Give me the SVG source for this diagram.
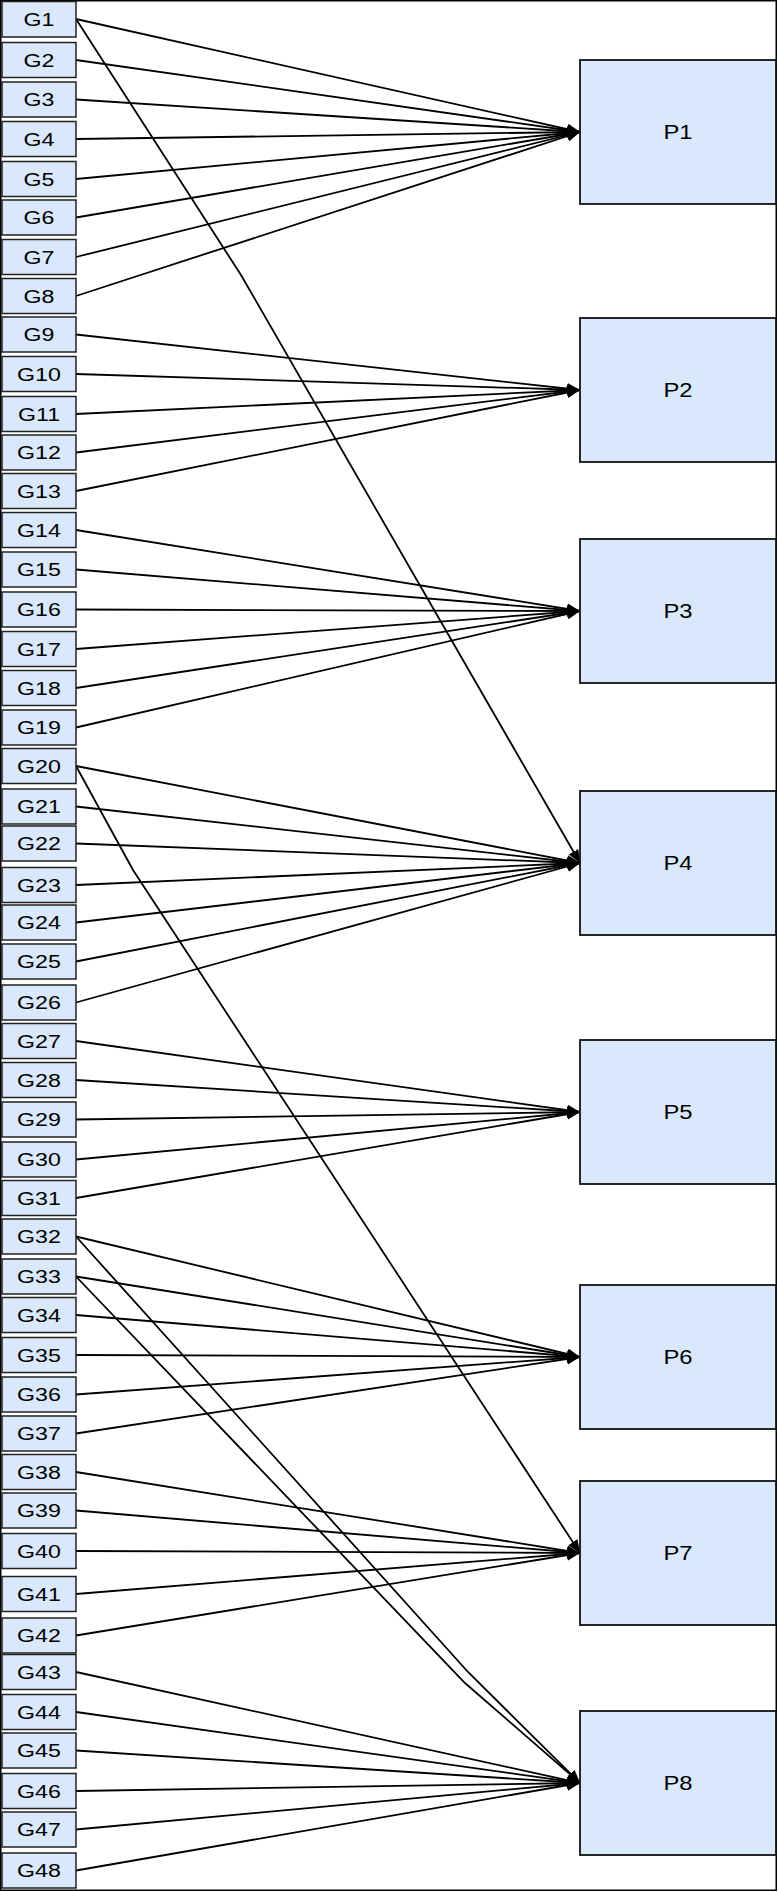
<svg xmlns="http://www.w3.org/2000/svg" width="778" height="1892" viewBox="0 0 778 1892">
<style>
.g rect{fill:#dae8fc;stroke:#222;stroke-width:1.5}
.p rect{fill:#dae8fc;stroke:#111;stroke-width:1.8}
text{font-family:"Liberation Sans",Arial,sans-serif;fill:#000;text-anchor:middle}
.g text{font-size:19px}
.p text{font-size:19.5px}
#connectors line,#connectors polyline{stroke:#000;stroke-width:1.8;fill:none;marker-end:url(#arr)}
</style>
<defs>
<marker id="arr" markerUnits="userSpaceOnUse" markerWidth="14" markerHeight="12" refX="13" refY="5.5" orient="auto" viewBox="0 0 14 12">
<path d="M0,0 L13,5.5 L0,11 Z" fill="#000"/>
</marker>
</defs>
<rect x="0" y="0" width="778" height="1892" fill="#fff"/>
<rect x="0.75" y="0.75" width="775.5" height="1889.5" fill="none" stroke="#000" stroke-width="1.5"/>
<g id="connectors">
<line x1="76" y1="19" x2="580" y2="132"/>
<line x1="76" y1="60" x2="580" y2="132"/>
<line x1="76" y1="99.5" x2="580" y2="132"/>
<line x1="76" y1="139" x2="580" y2="132"/>
<line x1="76" y1="179" x2="580" y2="132"/>
<line x1="76" y1="217.5" x2="580" y2="132"/>
<line x1="76" y1="257" x2="580" y2="132"/>
<line x1="76" y1="296" x2="580" y2="132"/>
<line x1="76" y1="334.5" x2="580" y2="390"/>
<line x1="76" y1="374" x2="580" y2="390"/>
<line x1="76" y1="414" x2="580" y2="390"/>
<line x1="76" y1="452.5" x2="580" y2="390"/>
<line x1="76" y1="491" x2="580" y2="390"/>
<line x1="76" y1="530" x2="580" y2="611"/>
<line x1="76" y1="569.5" x2="580" y2="611"/>
<line x1="76" y1="609.5" x2="580" y2="611"/>
<line x1="76" y1="649" x2="580" y2="611"/>
<line x1="76" y1="688" x2="580" y2="611"/>
<line x1="76" y1="727.5" x2="580" y2="611"/>
<polyline points="76,19 241,275 580,863"/>
<line x1="76" y1="766" x2="580" y2="863"/>
<line x1="76" y1="806.5" x2="580" y2="863"/>
<line x1="76" y1="843.5" x2="580" y2="863"/>
<line x1="76" y1="885" x2="580" y2="863"/>
<line x1="76" y1="922.5" x2="580" y2="863"/>
<line x1="76" y1="961.5" x2="580" y2="863"/>
<line x1="76" y1="1002.5" x2="580" y2="863"/>
<line x1="76" y1="1041" x2="580" y2="1112"/>
<line x1="76" y1="1080" x2="580" y2="1112"/>
<line x1="76" y1="1119.5" x2="580" y2="1112"/>
<line x1="76" y1="1159.5" x2="580" y2="1112"/>
<line x1="76" y1="1198" x2="580" y2="1112"/>
<line x1="76" y1="1236.5" x2="580" y2="1357"/>
<line x1="76" y1="1276.5" x2="580" y2="1357"/>
<line x1="76" y1="1315" x2="580" y2="1357"/>
<line x1="76" y1="1355" x2="580" y2="1357"/>
<line x1="76" y1="1394.5" x2="580" y2="1357"/>
<line x1="76" y1="1433.5" x2="580" y2="1357"/>
<polyline points="76,766 133,870 580,1553"/>
<line x1="76" y1="1472" x2="580" y2="1553"/>
<line x1="76" y1="1510.5" x2="580" y2="1553"/>
<line x1="76" y1="1551" x2="580" y2="1553"/>
<line x1="76" y1="1594" x2="580" y2="1553"/>
<line x1="76" y1="1635.5" x2="580" y2="1553"/>
<polyline points="76,1236.5 468,1672 580,1783"/>
<polyline points="76,1276.5 465,1683 580,1783"/>
<line x1="76" y1="1672" x2="580" y2="1783"/>
<line x1="76" y1="1712" x2="580" y2="1783"/>
<line x1="76" y1="1750.5" x2="580" y2="1783"/>
<line x1="76" y1="1791" x2="580" y2="1783"/>
<line x1="76" y1="1829.5" x2="580" y2="1783"/>
<line x1="76" y1="1870.5" x2="580" y2="1783"/>
</g>
<g id="G1" class="g"><rect x="2" y="1.5" width="74" height="35.5"/><text transform="translate(39,26) scale(1.22,1)">G1</text></g>
<g id="G2" class="g"><rect x="2" y="42.5" width="74" height="35"/><text transform="translate(39,66.8) scale(1.22,1)">G2</text></g>
<g id="G3" class="g"><rect x="2" y="82" width="74" height="35"/><text transform="translate(39,106.3) scale(1.22,1)">G3</text></g>
<g id="G4" class="g"><rect x="2" y="121.5" width="74" height="35"/><text transform="translate(39,145.8) scale(1.22,1)">G4</text></g>
<g id="G5" class="g"><rect x="2" y="161.5" width="74" height="35"/><text transform="translate(39,185.8) scale(1.22,1)">G5</text></g>
<g id="G6" class="g"><rect x="2" y="200" width="74" height="35"/><text transform="translate(39,224.3) scale(1.22,1)">G6</text></g>
<g id="G7" class="g"><rect x="2" y="239.5" width="74" height="35"/><text transform="translate(39,263.8) scale(1.22,1)">G7</text></g>
<g id="G8" class="g"><rect x="2" y="278.5" width="74" height="35"/><text transform="translate(39,302.8) scale(1.22,1)">G8</text></g>
<g id="G9" class="g"><rect x="2" y="317" width="74" height="35"/><text transform="translate(39,341.3) scale(1.22,1)">G9</text></g>
<g id="G10" class="g"><rect x="2" y="356.5" width="74" height="35"/><text transform="translate(39,380.8) scale(1.22,1)">G10</text></g>
<g id="G11" class="g"><rect x="2" y="396.5" width="74" height="35"/><text transform="translate(39,420.8) scale(1.22,1)">G11</text></g>
<g id="G12" class="g"><rect x="2" y="435" width="74" height="35"/><text transform="translate(39,459.3) scale(1.22,1)">G12</text></g>
<g id="G13" class="g"><rect x="2" y="473.5" width="74" height="35"/><text transform="translate(39,497.8) scale(1.22,1)">G13</text></g>
<g id="G14" class="g"><rect x="2" y="512.5" width="74" height="35"/><text transform="translate(39,536.8) scale(1.22,1)">G14</text></g>
<g id="G15" class="g"><rect x="2" y="552" width="74" height="35"/><text transform="translate(39,576.3) scale(1.22,1)">G15</text></g>
<g id="G16" class="g"><rect x="2" y="592" width="74" height="35"/><text transform="translate(39,616.3) scale(1.22,1)">G16</text></g>
<g id="G17" class="g"><rect x="2" y="631.5" width="74" height="35"/><text transform="translate(39,655.8) scale(1.22,1)">G17</text></g>
<g id="G18" class="g"><rect x="2" y="670.5" width="74" height="35"/><text transform="translate(39,694.8) scale(1.22,1)">G18</text></g>
<g id="G19" class="g"><rect x="2" y="710" width="74" height="35"/><text transform="translate(39,734.3) scale(1.22,1)">G19</text></g>
<g id="G20" class="g"><rect x="2" y="748.5" width="74" height="35"/><text transform="translate(39,772.8) scale(1.22,1)">G20</text></g>
<g id="G21" class="g"><rect x="2" y="789" width="74" height="35"/><text transform="translate(39,813.3) scale(1.22,1)">G21</text></g>
<g id="G22" class="g"><rect x="2" y="826" width="74" height="35"/><text transform="translate(39,850.3) scale(1.22,1)">G22</text></g>
<g id="G23" class="g"><rect x="2" y="867.5" width="74" height="35"/><text transform="translate(39,891.8) scale(1.22,1)">G23</text></g>
<g id="G24" class="g"><rect x="2" y="905" width="74" height="35"/><text transform="translate(39,929.3) scale(1.22,1)">G24</text></g>
<g id="G25" class="g"><rect x="2" y="944" width="74" height="35"/><text transform="translate(39,968.3) scale(1.22,1)">G25</text></g>
<g id="G26" class="g"><rect x="2" y="985" width="74" height="35"/><text transform="translate(39,1009.3) scale(1.22,1)">G26</text></g>
<g id="G27" class="g"><rect x="2" y="1023.5" width="74" height="35"/><text transform="translate(39,1047.8) scale(1.22,1)">G27</text></g>
<g id="G28" class="g"><rect x="2" y="1062.5" width="74" height="35"/><text transform="translate(39,1086.8) scale(1.22,1)">G28</text></g>
<g id="G29" class="g"><rect x="2" y="1102" width="74" height="35"/><text transform="translate(39,1126.3) scale(1.22,1)">G29</text></g>
<g id="G30" class="g"><rect x="2" y="1142" width="74" height="35"/><text transform="translate(39,1166.3) scale(1.22,1)">G30</text></g>
<g id="G31" class="g"><rect x="2" y="1180.5" width="74" height="35"/><text transform="translate(39,1204.8) scale(1.22,1)">G31</text></g>
<g id="G32" class="g"><rect x="2" y="1219" width="74" height="35"/><text transform="translate(39,1243.3) scale(1.22,1)">G32</text></g>
<g id="G33" class="g"><rect x="2" y="1259" width="74" height="35"/><text transform="translate(39,1283.3) scale(1.22,1)">G33</text></g>
<g id="G34" class="g"><rect x="2" y="1297.5" width="74" height="35"/><text transform="translate(39,1321.8) scale(1.22,1)">G34</text></g>
<g id="G35" class="g"><rect x="2" y="1337.5" width="74" height="35"/><text transform="translate(39,1361.8) scale(1.22,1)">G35</text></g>
<g id="G36" class="g"><rect x="2" y="1377" width="74" height="35"/><text transform="translate(39,1401.3) scale(1.22,1)">G36</text></g>
<g id="G37" class="g"><rect x="2" y="1416" width="74" height="35"/><text transform="translate(39,1440.3) scale(1.22,1)">G37</text></g>
<g id="G38" class="g"><rect x="2" y="1454.5" width="74" height="35"/><text transform="translate(39,1478.8) scale(1.22,1)">G38</text></g>
<g id="G39" class="g"><rect x="2" y="1493" width="74" height="35"/><text transform="translate(39,1517.3) scale(1.22,1)">G39</text></g>
<g id="G40" class="g"><rect x="2" y="1533.5" width="74" height="35"/><text transform="translate(39,1557.8) scale(1.22,1)">G40</text></g>
<g id="G41" class="g"><rect x="2" y="1576.5" width="74" height="35"/><text transform="translate(39,1600.8) scale(1.22,1)">G41</text></g>
<g id="G42" class="g"><rect x="2" y="1618" width="74" height="35"/><text transform="translate(39,1642.3) scale(1.22,1)">G42</text></g>
<g id="G43" class="g"><rect x="2" y="1654.5" width="74" height="35"/><text transform="translate(39,1678.8) scale(1.22,1)">G43</text></g>
<g id="G44" class="g"><rect x="2" y="1694.5" width="74" height="35"/><text transform="translate(39,1718.8) scale(1.22,1)">G44</text></g>
<g id="G45" class="g"><rect x="2" y="1733" width="74" height="35"/><text transform="translate(39,1757.3) scale(1.22,1)">G45</text></g>
<g id="G46" class="g"><rect x="2" y="1773.5" width="74" height="35"/><text transform="translate(39,1797.8) scale(1.22,1)">G46</text></g>
<g id="G47" class="g"><rect x="2" y="1812" width="74" height="35"/><text transform="translate(39,1836.3) scale(1.22,1)">G47</text></g>
<g id="G48" class="g"><rect x="2" y="1853" width="74" height="35"/><text transform="translate(39,1877.3) scale(1.22,1)">G48</text></g>
<g id="P1" class="p"><rect x="580" y="60" width="196" height="144"/><text transform="translate(678,139) scale(1.22,1)">P1</text></g>
<g id="P2" class="p"><rect x="580" y="318" width="196" height="144"/><text transform="translate(678,397) scale(1.22,1)">P2</text></g>
<g id="P3" class="p"><rect x="580" y="539" width="196" height="144"/><text transform="translate(678,618) scale(1.22,1)">P3</text></g>
<g id="P4" class="p"><rect x="580" y="791" width="196" height="144"/><text transform="translate(678,870) scale(1.22,1)">P4</text></g>
<g id="P5" class="p"><rect x="580" y="1040" width="196" height="144"/><text transform="translate(678,1119) scale(1.22,1)">P5</text></g>
<g id="P6" class="p"><rect x="580" y="1285" width="196" height="144"/><text transform="translate(678,1364) scale(1.22,1)">P6</text></g>
<g id="P7" class="p"><rect x="580" y="1481" width="196" height="144"/><text transform="translate(678,1560) scale(1.22,1)">P7</text></g>
<g id="P8" class="p"><rect x="580" y="1711" width="196" height="144"/><text transform="translate(678,1790) scale(1.22,1)">P8</text></g>
</svg>
